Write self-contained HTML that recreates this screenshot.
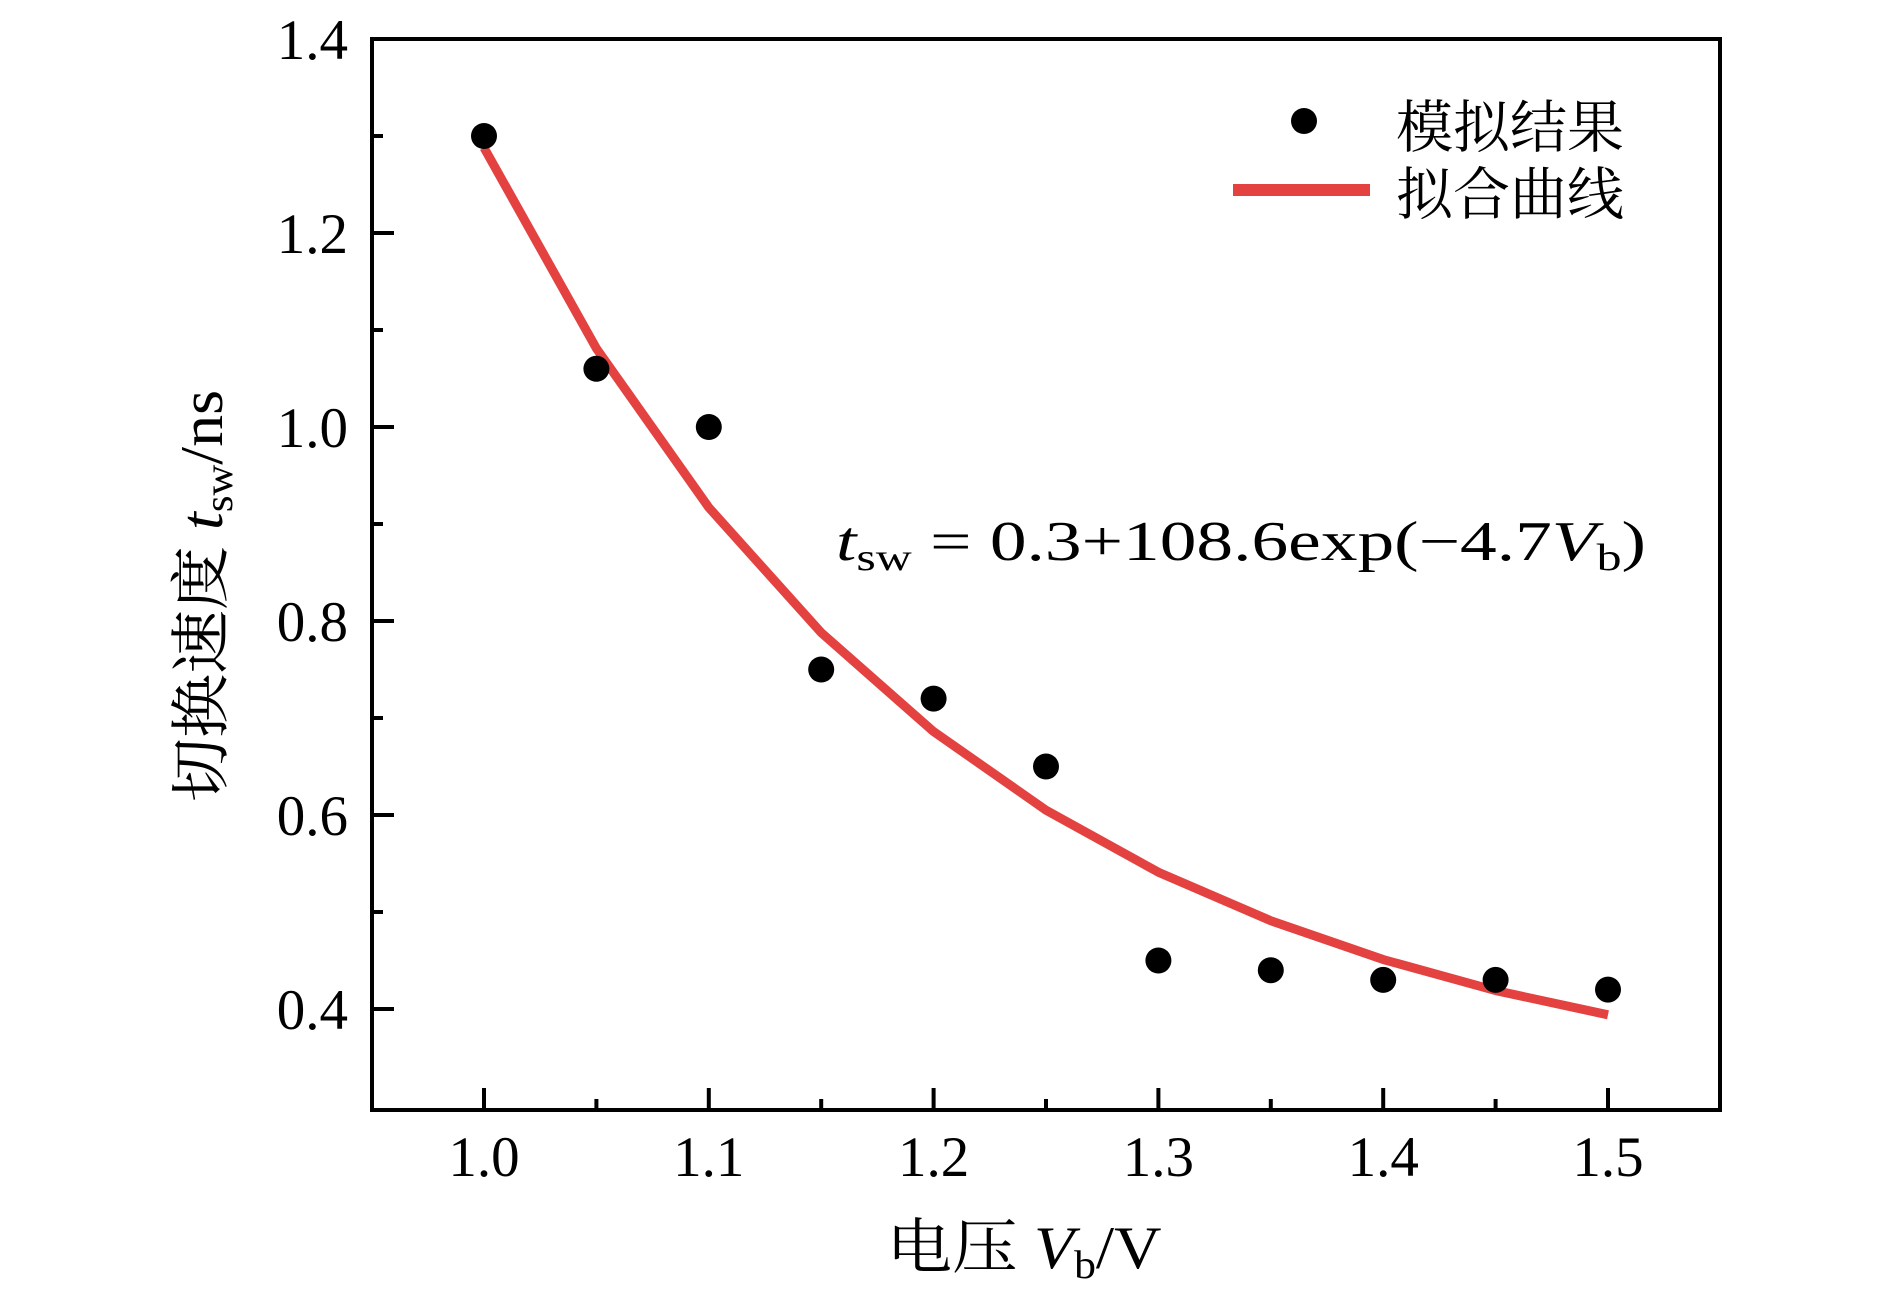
<!DOCTYPE html>
<html><head><meta charset="utf-8"><style>
html,body{margin:0;padding:0;background:#fff;}
svg{display:block;}
text{font-family:"Liberation Serif","Noto Serif CJK SC",serif;fill:#000;}
.cjk{font-family:"Liberation Serif","Noto Serif CJK SC","Noto Sans CJK SC",serif;}
</style></head><body>
<svg id="chart" width="1890" height="1300" viewBox="0 0 1890 1300" xmlns="http://www.w3.org/2000/svg">
<g id="ticks"></g>
<g id="fit"></g>
<g id="pts"></g>
<rect x="372" y="39" width="1348" height="1071" fill="none" stroke="#000" stroke-width="4"/>
<g>
  <circle cx="1304" cy="121" r="13" fill="#000"/>
  <text class="cjk" x="1396" y="147" font-size="57">模拟结果</text>
  <line x1="1233" y1="190" x2="1370" y2="190" stroke="#e34240" stroke-width="12"/>
  <text class="cjk" x="1396" y="214" font-size="57">拟合曲线</text>
</g>
<text x="836" y="560" font-size="56" textLength="810" lengthAdjust="spacingAndGlyphs"><tspan font-style="italic">t</tspan><tspan font-size="38" dy="10">sw</tspan><tspan dy="-10"> = 0.3+108.6exp(−4.7</tspan><tspan font-style="italic">V</tspan><tspan font-size="38" dy="10">b</tspan><tspan dy="-10">)</tspan></text>
<text class="cjk" x="1024" y="1268" font-size="60" text-anchor="middle" textLength="275" lengthAdjust="spacingAndGlyphs">电压 <tspan font-style="italic">V</tspan><tspan font-size="40" dy="10">b</tspan><tspan dy="-10">/V</tspan></text>
<text class="cjk" transform="translate(222,596) rotate(-90)" font-size="60" text-anchor="middle" textLength="412" lengthAdjust="spacingAndGlyphs">切换速度 <tspan font-style="italic">t</tspan><tspan font-size="40" dy="10">sw</tspan><tspan dy="-10">/ns</tspan></text>
</svg>
<script>
const xCats = [1.0,1.05,1.1,1.15,1.2,1.25,1.3,1.35,1.4,1.45,1.5];
const simValues = [1.30,1.06,1.00,0.75,0.72,0.65,0.45,0.44,0.43,0.43,0.42];
const fitValues = [1.288,1.081,0.917,0.788,0.686,0.605,0.541,0.491,0.451,0.419,0.394];
const xTickLabels = ["1.0","1.1","1.2","1.3","1.4","1.5"];
const yTickLabels = ["0.4","0.6","0.8","1.0","1.2","1.4"];

const NS="http://www.w3.org/2000/svg";
function X(v){return 484+(v-1.0)*2248;}
function Y(v){return 39+(1.4-v)*970;}
function mk(tag,attrs,parent){const e=document.createElementNS(NS,tag);for(const k in attrs)e.setAttribute(k,attrs[k]);parent.appendChild(e);return e;}
const tk=document.getElementById('ticks');
for(let i=0;i<=10;i++){
  const v=1.0+i*0.05, major=i%2===0, len=major?22:11;
  const l=mk('line',{x1:X(v),x2:X(v),y1:1110,y2:1110-len,stroke:'#000','stroke-width':4},tk);
  
  
}
xTickLabels.forEach(s=>{
  const t=mk('text',{x:X(parseFloat(s)),y:1176,'font-size':57,'text-anchor':'middle'},tk);
  t.textContent=s;
  
  
});
for(let i=0;i<=10;i++){
  const v=0.4+i*0.1, major=i%2===0, len=major?22:11;
  const l=mk('line',{x1:372,x2:372+len,y1:Y(v),y2:Y(v),stroke:'#000','stroke-width':4},tk);
  
  
}
yTickLabels.forEach(s=>{
  const t=mk('text',{x:348,y:Y(parseFloat(s))+20,'font-size':57,'text-anchor':'end'},tk);
  t.textContent=s;
  
  
});
const fg=document.getElementById('fit');
const p=mk('polyline',{points:xCats.map((x,i)=>X(x)+','+Y(fitValues[i])).join(' '),fill:'none',stroke:'#e34240','stroke-width':9,'stroke-linejoin':'round'},fg);


const pg=document.getElementById('pts');
xCats.forEach((x,i)=>{
  const c=mk('circle',{cx:X(x),cy:Y(simValues[i]),r:13,fill:'#000'},pg);
  
  
});
</script>
</body></html>
